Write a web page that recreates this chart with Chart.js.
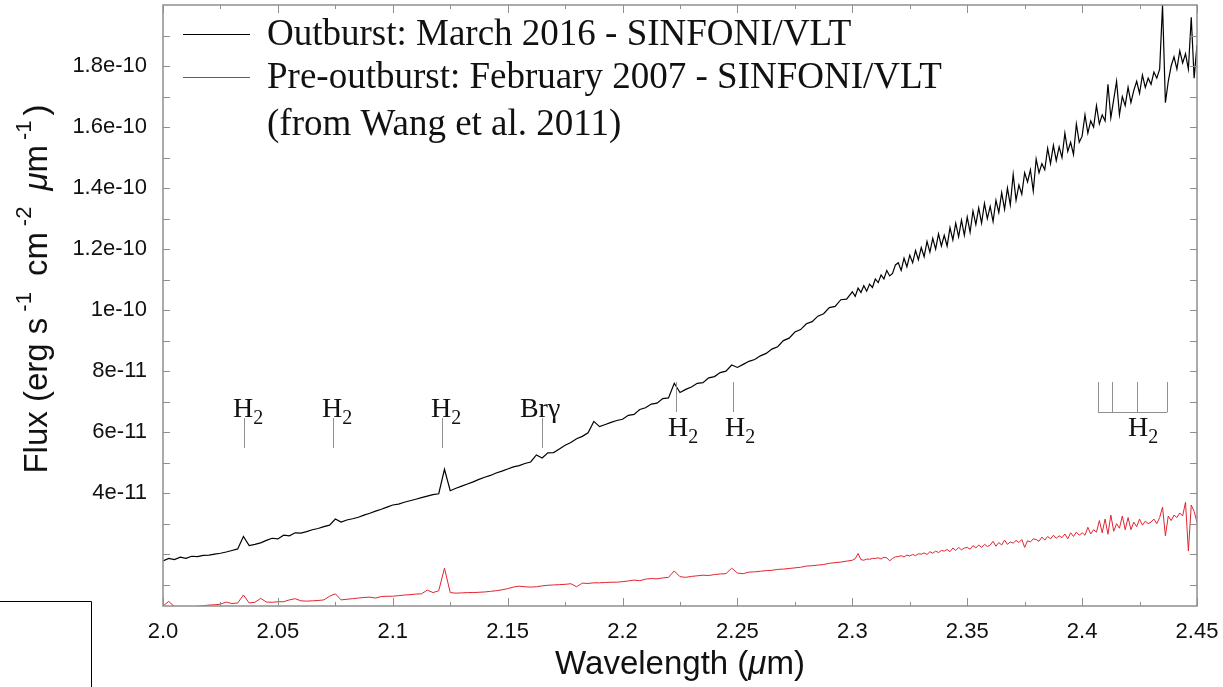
<!DOCTYPE html>
<html>
<head>
<meta charset="utf-8">
<title>K-band spectrum</title>
<script src="https://cdn.jsdelivr.net/npm/chart.js@4.4.0/dist/chart.umd.min.js"></script>
<style>
  html, body { margin: 0; padding: 0; background: #fff; }
  #wrap { width: 1223px; height: 687px; position: relative; }
</style>
</head>
<body>
<div id="wrap"><canvas id="spectrum"></canvas></div>
<script>
// wavelength grid (micron); finer sampling in the noisy red end
const wavelength = [
  2.0000, 2.0025, 2.0050, 2.0075, 2.0100, 2.0125, 2.0150, 2.0175, 2.0200, 2.0225,
  2.0250, 2.0275, 2.0300, 2.0325, 2.0350, 2.0375, 2.0400, 2.0425, 2.0450, 2.0475,
  2.0500, 2.0525, 2.0550, 2.0575, 2.0600, 2.0625, 2.0650, 2.0675, 2.0700, 2.0725,
  2.0750, 2.0775, 2.0800, 2.0825, 2.0850, 2.0875, 2.0900, 2.0925, 2.0950, 2.0975,
  2.1000, 2.1025, 2.1050, 2.1075, 2.1100, 2.1125, 2.1150, 2.1175, 2.1200, 2.1225,
  2.1250, 2.1275, 2.1300, 2.1325, 2.1350, 2.1375, 2.1400, 2.1425, 2.1450, 2.1475,
  2.1500, 2.1525, 2.1550, 2.1575, 2.1600, 2.1625, 2.1650, 2.1675, 2.1700, 2.1725,
  2.1750, 2.1775, 2.1800, 2.1825, 2.1850, 2.1875, 2.1900, 2.1925, 2.1950, 2.1975,
  2.2000, 2.2025, 2.2050, 2.2075, 2.2100, 2.2125, 2.2150, 2.2175, 2.2200, 2.2225,
  2.2250, 2.2275, 2.2300, 2.2325, 2.2350, 2.2375, 2.2400, 2.2425, 2.2450, 2.2475,
  2.2500, 2.2525, 2.2550, 2.2575, 2.2600, 2.2625, 2.2650, 2.2675, 2.2700, 2.2725,
  2.2750, 2.2775, 2.2800, 2.2825, 2.2850, 2.2875, 2.2900, 2.2925, 2.2950, 2.2975,
  2.30000, 2.30125, 2.30250, 2.30375, 2.30500, 2.30625, 2.30750, 2.30875,
  2.31000, 2.31125, 2.31250, 2.31375, 2.31500, 2.31625, 2.31750, 2.31875,
  2.32000, 2.32125, 2.32250, 2.32375, 2.32500, 2.32625, 2.32750, 2.32875,
  2.33000, 2.33125, 2.33250, 2.33375, 2.33500, 2.33625, 2.33750, 2.33875,
  2.34000, 2.34125, 2.34250, 2.34375, 2.34500, 2.34625, 2.34750, 2.34875,
  2.35000, 2.35125, 2.35250, 2.35375, 2.35500, 2.35625, 2.35750, 2.35875,
  2.36000, 2.36125, 2.36250, 2.36375, 2.36500, 2.36625, 2.36750, 2.36875,
  2.37000, 2.37125, 2.37250, 2.37375, 2.37500, 2.37625, 2.37750, 2.37875,
  2.38000, 2.38125, 2.38250, 2.38375, 2.38500, 2.38625, 2.38750, 2.38875,
  2.39000, 2.39125, 2.39250, 2.39375, 2.39500, 2.39625, 2.39750, 2.39875,
  2.40000, 2.40125, 2.40250, 2.40375, 2.40500, 2.40625, 2.40750, 2.40875,
  2.41000, 2.41125, 2.41250, 2.41375, 2.41500, 2.41625, 2.41750, 2.41875,
  2.42000, 2.42125, 2.42250, 2.42375, 2.42500, 2.42625, 2.42750, 2.42875,
  2.43000, 2.43125, 2.43250, 2.43375, 2.43500, 2.43625, 2.43750, 2.43875,
  2.44000, 2.44125, 2.44250, 2.44375, 2.44500, 2.44625, 2.44750, 2.44875,
  2.45000
];

// flux in units of 1e-11 erg s-1 cm-2 um-1
const outburst2016 = [
  1.78, 1.86, 1.82, 1.90, 1.86, 1.93, 1.92, 1.96, 1.97, 2.00,
  2.03, 2.07, 2.12, 2.17, 2.58, 2.28, 2.32, 2.37, 2.45, 2.52,
  2.50, 2.62, 2.60, 2.70, 2.69, 2.74, 2.80, 2.84, 2.90, 2.95,
  3.15, 3.05, 3.12, 3.16, 3.21, 3.28, 3.34, 3.41, 3.47, 3.54,
  3.61, 3.64, 3.70, 3.75, 3.80, 3.85, 3.90, 3.95, 3.98, 4.78,
  4.08, 4.16, 4.23, 4.30, 4.37, 4.45, 4.52, 4.58, 4.66, 4.72,
  4.79, 4.86, 4.90, 4.97, 5.02, 5.25, 5.15, 5.32, 5.33, 5.45,
  5.57, 5.66, 5.78, 5.86, 5.98, 6.35, 6.18, 6.25, 6.32, 6.38,
  6.42, 6.55, 6.58, 6.74, 6.80, 6.92, 6.95, 7.10, 7.12, 7.60,
  7.30, 7.40, 7.48, 7.60, 7.62, 7.78, 7.82, 7.95, 8.00, 8.20,
  8.12, 8.22, 8.32, 8.38, 8.50, 8.58, 8.72, 8.80, 9.00, 9.08,
  9.28, 9.36, 9.55, 9.62, 9.80, 9.88, 10.08, 10.12, 10.34, 10.36,
  10.60, 10.45, 10.72, 10.58, 10.80, 10.62, 10.85, 10.74,
  11.02, 10.90, 11.15, 11.02, 11.30, 11.12, 11.20, 11.48,
  11.55, 11.30, 11.70, 11.42, 11.80, 11.55, 11.95, 11.65,
  12.05, 11.75, 12.25, 11.90, 12.35, 12.00, 12.50, 12.10,
  12.45, 12.10, 12.70, 12.30, 12.85, 12.40, 12.95, 12.45,
  13.05, 12.55, 13.25, 12.80, 13.35, 12.85, 13.50, 13.00,
  13.40, 12.90, 13.60, 13.20, 13.85, 13.30, 14.00, 13.45,
  14.45, 13.60, 14.10, 13.80, 14.50, 14.20, 14.60, 13.90,
  14.95, 14.50, 14.80, 14.60, 15.30, 14.80, 15.40, 14.90,
  15.35, 15.00, 15.80, 15.20, 15.50, 15.10, 16.10, 15.50,
  15.70, 16.40, 15.80, 16.20, 16.00, 16.70, 16.10, 16.40,
  16.20, 17.40, 16.30, 16.90, 17.50, 16.40, 17.00, 16.70,
  17.30, 16.80, 17.20, 17.50, 17.10, 17.70, 17.30, 17.60,
  17.40, 17.80, 17.60, 17.90, 20.00, 16.80, 17.50, 18.00,
  18.30, 17.90, 18.50, 18.10, 18.40, 17.90, 19.60, 17.60,
  18.70
];

const preOutburst2007 = [
  0.30, 0.45, 0.28, 0.26, 0.27, 0.28, 0.29, 0.31, 0.33, 0.34,
  0.36, 0.43, 0.38, 0.40, 0.66, 0.40, 0.42, 0.55, 0.43, 0.42,
  0.44, 0.44, 0.50, 0.54, 0.47, 0.46, 0.47, 0.48, 0.50, 0.62,
  0.70, 0.50, 0.52, 0.54, 0.56, 0.58, 0.59, 0.56, 0.61, 0.62,
  0.62, 0.64, 0.66, 0.67, 0.69, 0.70, 0.82, 0.74, 0.80, 1.54,
  0.74, 0.72, 0.73, 0.74, 0.74, 0.75, 0.76, 0.78, 0.80, 0.83,
  0.87, 0.92, 0.95, 0.93, 0.92, 0.93, 0.96, 0.98, 0.99, 1.00,
  1.01, 1.03, 0.93, 1.05, 1.04, 1.06, 1.06, 1.07, 1.08, 1.08,
  1.10, 1.12, 1.15, 1.13, 1.18, 1.20, 1.19, 1.22, 1.24, 1.45,
  1.26, 1.24, 1.27, 1.29, 1.31, 1.30, 1.33, 1.35, 1.36, 1.54,
  1.38, 1.36, 1.41, 1.42, 1.44, 1.46, 1.47, 1.50, 1.51, 1.53,
  1.55, 1.57, 1.61, 1.62, 1.64, 1.66, 1.70, 1.72, 1.74, 1.77,
  1.80, 1.85, 2.02, 1.82, 1.80, 1.84, 1.83, 1.86,
  1.86, 1.88, 1.84, 1.90, 1.88, 1.78, 1.86, 1.91,
  1.92, 1.95, 1.91, 1.97, 1.94, 1.99, 1.95, 2.01,
  2.00, 2.04, 1.99, 2.08, 2.03, 2.10, 2.05, 2.12,
  2.10, 2.15, 2.08, 2.20, 2.12, 2.22, 2.14, 2.20,
  2.22, 2.16, 2.28, 2.20, 2.30, 2.22, 2.32, 2.25,
  2.30, 2.42, 2.26, 2.38, 2.30, 2.46, 2.32, 2.40,
  2.36, 2.45, 2.38, 2.48, 2.22, 2.44, 2.40, 2.50,
  2.48, 2.42, 2.56, 2.46, 2.58, 2.50, 2.62, 2.52,
  2.60, 2.54, 2.66, 2.50, 2.70, 2.58, 2.72, 2.62,
  2.70, 2.62, 2.88, 2.66, 2.80, 2.72, 3.10, 2.70,
  3.15, 2.65, 3.28, 2.75, 3.00, 2.85, 3.25, 2.80,
  3.20, 2.80, 3.05, 2.90, 3.15, 2.95, 3.08, 3.00,
  3.05, 3.15, 3.00, 3.20, 3.54, 2.60, 3.25, 3.10,
  3.28, 3.20, 3.35, 3.25, 3.70, 2.10, 3.61, 3.40,
  3.05
];

const xTickValues = [2.0, 2.05, 2.1, 2.15, 2.2, 2.25, 2.3, 2.35, 2.4, 2.45];
const xTickLabels = ['2.0', '2.05', '2.1', '2.15', '2.2', '2.25', '2.3', '2.35', '2.4', '2.45'];
const yTickValues = [4, 6, 8, 10, 12, 14, 16, 18];
const yTickLabels = ['4e-11', '6e-11', '8e-11', '1e-10', '1.2e-10', '1.4e-10', '1.6e-10', '1.8e-10'];

// line identifications (micron)
const h2Upper = [2.0353, 2.0740, 2.1214];
const brGamma = 2.1649;
const h2Lower = [2.2233, 2.2481];
const h2QBranch = [2.4069, 2.4132, 2.4239, 2.4369];
const note = '(from Wang et al. 2011)';

const GREY = '#8f8f8f';
const SANS = '"Liberation Sans", Arial, sans-serif';
const SERIF = '"Liberation Serif", "Times New Roman", serif';

// draw a sequence of [text, font, dy, gapAfter] pieces on one line
function drawRuns(ctx, runs, x, y) {
  runs.forEach(([t, f, dy, gap]) => {
    ctx.font = f;
    ctx.fillText(t, x, y + dy);
    x += ctx.measureText(t).width + (gap || 0);
  });
  return x;
}
function runsWidth(ctx, runs) {
  let w = 0;
  runs.forEach(([t, f, dy, gap]) => { ctx.font = f; w += ctx.measureText(t).width + (gap || 0); });
  return w;
}
function drawH2(ctx, x, baseline) {
  drawRuns(ctx, [['H', '28px ' + SERIF, 0], ['2', '20px ' + SERIF, 7]], x, baseline);
}

const decor = {
  id: 'decor',
  afterDatasetsDraw(chart) {
    const { ctx, chartArea: a, scales: { x, y } } = chart;
    ctx.save();

    // inward tick marks on all four sides
    ctx.strokeStyle = GREY;
    ctx.lineWidth = 1;
    ctx.beginPath();
    for (let i = 0; i < xTickValues.length; i++) {
      const marks = [[xTickValues[i], 8]];
      if (i < xTickValues.length - 1) marks.push([xTickValues[i] + 0.025, 4]);
      marks.forEach(([v, len]) => {
        const px = Math.round(x.getPixelForValue(v)) + 0.5;
        ctx.moveTo(px, a.bottom); ctx.lineTo(px, a.bottom - len);
        ctx.moveTo(px, a.top); ctx.lineTo(px, a.top + len);
      });
    }
    for (let v = 1; v < 20; v++) {
      const py = Math.round(y.getPixelForValue(v)) + 0.5;
      ctx.moveTo(a.left, py); ctx.lineTo(a.left + 7, py);
      ctx.moveTo(a.right, py); ctx.lineTo(a.right - 7, py);
    }
    ctx.stroke();

    // frame
    ctx.lineWidth = 1.5;
    ctx.strokeRect(a.left, a.top, a.right - a.left, a.bottom - a.top);

    // line markers
    ctx.lineWidth = 1;
    ctx.beginPath();
    const upTop = y.getPixelForValue(6.46), upBot = y.getPixelForValue(5.48);
    const loTop = y.getPixelForValue(7.64), loBot = y.getPixelForValue(6.66);
    h2Upper.concat([brGamma]).forEach(w => {
      const px = Math.round(x.getPixelForValue(w)) + 0.5;
      ctx.moveTo(px, upTop); ctx.lineTo(px, upBot);
    });
    h2Lower.concat(h2QBranch).forEach(w => {
      const px = Math.round(x.getPixelForValue(w)) + 0.5;
      ctx.moveTo(px, loTop); ctx.lineTo(px, loBot);
    });
    const qy = Math.round(loBot) + 0.5;
    ctx.moveTo(x.getPixelForValue(h2QBranch[0]), qy);
    ctx.lineTo(x.getPixelForValue(h2QBranch[h2QBranch.length - 1]) + 0.5, qy);
    ctx.stroke();

    ctx.fillStyle = '#111';
    ctx.textBaseline = 'alphabetic';
    ctx.textAlign = 'left';
    h2Upper.forEach(w => drawH2(ctx, x.getPixelForValue(w) - 11, upTop - 1));
    ctx.font = '28px ' + SERIF;
    ctx.fillText('Br\u03B3', x.getPixelForValue(brGamma) - 22, upTop - 1);
    h2Lower.forEach(w => drawH2(ctx, x.getPixelForValue(w) - 8, loBot + 24));
    drawH2(ctx, x.getPixelForValue(h2QBranch[2]) - 9, loBot + 24);

    // legend
    const rows = [[34, chart.data.datasets[0]], [77, chart.data.datasets[1]]];
    ctx.lineWidth = 1;
    rows.forEach(([ly, ds]) => {
      ctx.strokeStyle = ds.borderColor;
      ctx.beginPath();
      ctx.moveTo(183, ly + 0.5); ctx.lineTo(250, ly + 0.5);
      ctx.stroke();
    });
    ctx.font = '37px ' + SERIF;
    ctx.fillStyle = '#111';
    ctx.textBaseline = 'middle';
    rows.forEach(([ly, ds]) => ctx.fillText(ds.label, 267, ly + 1));
    ctx.fillText(note, 267, 125);

    // axis titles
    ctx.fillStyle = '#111';
    ctx.textBaseline = 'middle';
    const big = '33px ' + SANS, sup = '22px ' + SANS, ital = 'italic 33px ' + SANS;
    const xRuns = [['Wavelength (', big, 0], ['\u03BC', ital, 0], ['m)', big, 0]];
    const xMid = (a.left + a.right) / 2;
    drawRuns(ctx, xRuns, xMid - runsWidth(ctx, xRuns) / 2, 665);

    const yRuns = [
      ['Flux (erg s', big, 0, 6], ['-1', sup, -13, 16], ['cm', big, 0, 6], ['-2', sup, -13, 16],
      ['\u03BC', ital, 0], ['m', big, 0, 5], ['-1', sup, -13, 5], [')', big, 0]
    ];
    ctx.translate(38, 289);
    ctx.rotate(-Math.PI / 2);
    drawRuns(ctx, yRuns, -runsWidth(ctx, yRuns) / 2, 0);
    ctx.restore();

    // stray panel edge in the lower left corner
    ctx.save();
    ctx.strokeStyle = '#000';
    ctx.lineWidth = 1;
    ctx.beginPath();
    ctx.moveTo(0, 601.5); ctx.lineTo(91.5, 601.5); ctx.lineTo(91.5, 687);
    ctx.stroke();
    ctx.restore();
  }
};

// keep the plot frame fixed: no extra room for half-labels at the scale ends
function noScalePadding(s) {
  s.paddingTop = 0; s.paddingBottom = 0; s.paddingLeft = 0; s.paddingRight = 0;
}

new Chart(document.getElementById('spectrum'), {
  type: 'line',
  data: {
    datasets: [
      {
        label: 'Outburst: March 2016 - SINFONI/VLT',
        data: wavelength.map((w, i) => ({ x: w, y: outburst2016[i] })),
        borderColor: '#000000',
        borderWidth: 1.2,
        pointRadius: 0,
        tension: 0
      },
      {
        label: 'Pre-outburst: February 2007 - SINFONI/VLT',
        data: wavelength.map((w, i) => ({ x: w, y: preOutburst2007[i] })),
        borderColor: '#e3232f',
        borderWidth: 1,
        pointRadius: 0,
        tension: 0
      }
    ]
  },
  options: {
    responsive: true,
    maintainAspectRatio: false,
    animation: false,
    devicePixelRatio: 1,
    layout: { padding: { top: 5, right: 26, left: 0, bottom: 0 } },
    plugins: { legend: { display: false }, tooltip: { enabled: false } },
    scales: {
      x: {
        type: 'linear',
        min: 2.0,
        max: 2.45,
        grid: { display: false, drawTicks: false },
        border: { display: false },
        afterBuildTicks: s => { s.ticks = xTickValues.map(v => ({ value: v })); },
        afterFit: s => { s.height = 81; noScalePadding(s); },
        ticks: {
          autoSkip: false,
          maxRotation: 0,
          padding: 13,
          color: '#111',
          font: { family: SANS, size: 22 },
          callback: (v, i) => xTickLabels[i]
        }
      },
      y: {
        type: 'linear',
        min: 0.3,
        max: 20,
        grid: { display: false, drawTicks: false },
        border: { display: false },
        afterBuildTicks: s => { s.ticks = yTickValues.map(v => ({ value: v })); },
        afterFit: s => { s.width = 163; noScalePadding(s); },
        ticks: {
          padding: 16,
          color: '#111',
          font: { family: SANS, size: 22 },
          callback: (v, i) => yTickLabels[i]
        }
      }
    }
  },
  plugins: [decor]
});
</script>
</body>
</html>
